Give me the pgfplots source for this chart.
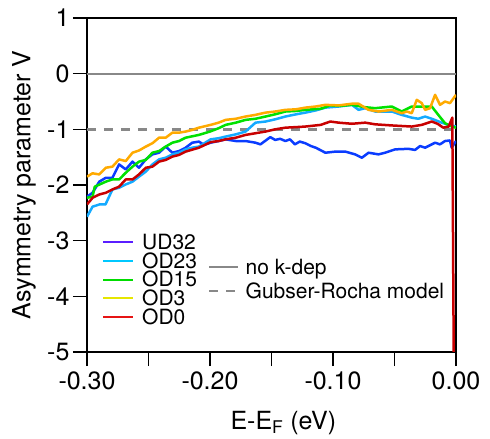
\documentclass[border=0pt]{standalone}
\usepackage{pgfplots}
\pgfplotsset{compat=1.18}
\usepackage{fontspec}
\setmainfont{TeX Gyre Heros}

% plot colours
\definecolor{pUD}{RGB}{10,60,255}
\definecolor{pOD23}{RGB}{20,170,255}
\definecolor{pOD15}{RGB}{0,225,0}
\definecolor{pOD3}{RGB}{255,170,0}
\definecolor{pOD0}{RGB}{200,0,0}
% legend colours
\definecolor{lUD}{RGB}{90,30,255}
\definecolor{lOD23}{RGB}{0,200,255}
\definecolor{lOD15}{RGB}{0,220,0}
\definecolor{lOD3}{RGB}{230,230,0}
\definecolor{lOD0}{RGB}{230,20,20}
\definecolor{refgray}{RGB}{136,136,136}

\newcommand{\tickfont}{\fontsize{25}{29}\selectfont}
\newcommand{\legfont}{\fontsize{21}{24}\selectfont}

\begin{document}
\begin{tikzpicture}
\begin{axis}[
    scale only axis,
    width=369pt, height=334pt,
    xmin=-0.3, xmax=0, ymin=-5, ymax=1,
    axis line style={line width=1.6pt},
    tick style={line width=1.4pt, black},
    tick align=outside,
    major tick length=14pt,
    xtick pos=lower, ytick pos=left,
    xtick={-0.30,-0.25,-0.20,-0.15,-0.10,-0.05,0},
    xticklabels={-0.30,,-0.20,,-0.10,,0.00},
    ytick={-5,-4,-3,-2,-1,0,1},
    yticklabels={-5,-4,-3,-2,-1,0,1},
    ticklabel style={font=\tickfont},
    label style={font=\tickfont},
    xticklabel style={yshift=-2pt},
    xlabel={E-E\textsubscript{F} (eV)},
    ylabel={Asymmetry parameter V},
    xlabel style={at={(axis description cs:0.3794,0)}, anchor=base west, yshift=-77pt},
    ylabel style={at={(axis description cs:-0.1707,0.5)}, anchor=center},
    every axis plot/.append style={line width=2.5pt, line join=round},
    legend image code/.code={\draw[#1] (0pt,0pt) -- (30pt,0pt);},
    legend style={at={(axis description cs:0.0407,0.357)}, anchor=north west,
        draw=none, fill=none, inner sep=0pt, row sep=0pt, column sep=8pt,
        nodes={inner sep=0pt, text height=16.35pt, text depth=2.35pt, font=\legfont},
        cells={anchor=west}},
]
% reference lines
\addplot[refgray, line width=2pt, forget plot] coordinates {(-0.3,0) (0,0)};
\addplot[refgray, line width=3pt, dash pattern=on 9pt off 8pt, forget plot] coordinates {(-0.3,-1) (0,-1)};

% UD32
\addplot[pUD, forget plot] coordinates {
(-0.300,-2.21) (-0.2955,-2.14) (-0.290,-1.94) (-0.2847,-1.87) (-0.2793,-1.87)
(-0.2739,-1.63) (-0.2685,-1.72) (-0.2630,-1.58) (-0.2577,-1.69) (-0.2522,-1.54)
(-0.2468,-1.45) (-0.2414,-1.42) (-0.2360,-1.31) (-0.2306,-1.42) (-0.2252,-1.39)
(-0.2198,-1.33) (-0.2144,-1.24) (-0.2090,-1.22) (-0.2050,-1.28) (-0.1995,-1.24)
(-0.1930,-1.21) (-0.1873,-1.18) (-0.1790,-1.21) (-0.1711,-1.21) (-0.1630,-1.24)
(-0.1590,-1.27) (-0.1510,-1.14) (-0.1470,-1.19) (-0.1430,-1.17) (-0.1387,-1.21)
(-0.1350,-1.18) (-0.1310,-1.27) (-0.1270,-1.22) (-0.1225,-1.25) (-0.1180,-1.30)
(-0.1140,-1.33) (-0.1062,-1.42) (-0.0980,-1.40) (-0.0900,-1.40) (-0.0820,-1.45)
(-0.0765,-1.51) (-0.0711,-1.42) (-0.0630,-1.45) (-0.0576,-1.42) (-0.0495,-1.36)
(-0.0387,-1.35) (-0.0333,-1.37) (-0.0292,-1.30) (-0.0251,-1.33) (-0.0170,-1.24)
(-0.0130,-1.27) (-0.0089,-1.21) (-0.0049,-1.20) (-0.0035,-1.33) (0.000,-1.21)
};
% OD23
\addplot[pOD23, forget plot] coordinates {
(-0.300,-2.57) (-0.2955,-2.39) (-0.290,-2.35) (-0.2850,-2.35) (-0.2793,-2.08)
(-0.2739,-2.05) (-0.2685,-1.99) (-0.2630,-1.94) (-0.2577,-1.85) (-0.2522,-1.76)
(-0.2468,-1.63) (-0.2414,-1.54) (-0.2360,-1.51) (-0.2306,-1.45) (-0.2252,-1.42)
(-0.2198,-1.36) (-0.2144,-1.33) (-0.2090,-1.31) (-0.1995,-1.18) (-0.1930,-1.16)
(-0.1873,-1.13) (-0.1790,-1.09) (-0.1711,-1.04) (-0.1630,-0.88) (-0.1549,-0.86)
(-0.1470,-0.82) (-0.1387,-0.77) (-0.1300,-0.73) (-0.1225,-0.70) (-0.1140,-0.66)
(-0.1062,-0.61) (-0.0954,-0.59) (-0.0846,-0.56) (-0.0792,-0.65) (-0.0738,-0.62)
(-0.0657,-0.68) (-0.0576,-0.68) (-0.0522,-0.68) (-0.0441,-0.74) (-0.0360,-0.79)
(-0.0306,-0.81) (-0.0251,-0.77) (-0.0197,-0.81) (-0.0116,-0.88) (-0.0062,-0.92)
(0.000,-0.95)
};
% OD15
\addplot[pOD15, forget plot] coordinates {
(-0.300,-2.23) (-0.2955,-2.21) (-0.2937,-2.03) (-0.2847,-1.94) (-0.2793,-1.90)
(-0.2739,-1.90) (-0.2685,-1.78) (-0.2630,-1.67) (-0.2577,-1.58) (-0.2522,-1.55)
(-0.2468,-1.42) (-0.2414,-1.39) (-0.2360,-1.31) (-0.2306,-1.24) (-0.2252,-1.21)
(-0.2198,-1.15) (-0.2090,-1.10) (-0.2000,-1.04) (-0.1930,-0.98) (-0.1873,-0.92)
(-0.1790,-0.88) (-0.1711,-0.83) (-0.1630,-0.81) (-0.1549,-0.77) (-0.1470,-0.73)
(-0.1387,-0.68) (-0.1300,-0.67) (-0.1225,-0.65) (-0.1100,-0.63) (-0.1022,-0.57)
(-0.0950,-0.58) (-0.0846,-0.56) (-0.0750,-0.60) (-0.0657,-0.62) (-0.0522,-0.59)
(-0.0441,-0.68) (-0.0360,-0.59) (-0.0278,-0.59) (-0.0197,-0.59) (-0.0144,-0.74)
(-0.0089,-0.89) (-0.0035,-0.95) (0.000,-0.97)
};
% OD3
\addplot[pOD3, forget plot] coordinates {
(-0.300,-1.85) (-0.2955,-1.79) (-0.290,-1.81) (-0.2847,-1.69) (-0.2793,-1.67)
(-0.2739,-1.54) (-0.2685,-1.57) (-0.2630,-1.42) (-0.2577,-1.38) (-0.2522,-1.31)
(-0.2468,-1.25) (-0.2414,-1.15) (-0.2360,-1.15) (-0.2306,-1.06) (-0.2252,-1.06)
(-0.2198,-1.04) (-0.2144,-1.01) (-0.2090,-0.97) (-0.1995,-0.92) (-0.1930,-0.88)
(-0.1873,-0.83) (-0.1790,-0.81) (-0.1711,-0.77) (-0.1630,-0.74) (-0.1549,-0.70)
(-0.1470,-0.68) (-0.1387,-0.65) (-0.1300,-0.64) (-0.1225,-0.61) (-0.1140,-0.59)
(-0.1062,-0.56) (-0.0954,-0.57) (-0.0846,-0.54) (-0.0792,-0.54) (-0.0711,-0.65)
(-0.0630,-0.68) (-0.0522,-0.65) (-0.0441,-0.71) (-0.0400,-0.68) (-0.0360,-0.71)
(-0.0319,-0.47) (-0.0278,-0.53) (-0.0251,-0.65) (-0.0211,-0.62) (-0.0170,-0.38)
(-0.0130,-0.56) (-0.0089,-0.50) (-0.0049,-0.53) (0.000,-0.38)
};
% OD0
\addplot[pOD0, forget plot] coordinates {
(-0.300,-2.35) (-0.2955,-2.23) (-0.290,-2.17) (-0.2847,-2.14) (-0.2793,-2.08)
(-0.2739,-2.03) (-0.2685,-1.90) (-0.2630,-1.90) (-0.2577,-1.81) (-0.2522,-1.69)
(-0.2468,-1.67) (-0.2414,-1.58) (-0.2360,-1.55) (-0.2306,-1.49) (-0.2252,-1.46)
(-0.2198,-1.40) (-0.2090,-1.33) (-0.1995,-1.23) (-0.1930,-1.21) (-0.1873,-1.18)
(-0.1790,-1.15) (-0.1711,-1.10) (-0.1630,-1.07) (-0.1549,-1.04) (-0.1470,-1.00)
(-0.1387,-0.97) (-0.1300,-0.96) (-0.1225,-0.95) (-0.1100,-0.92) (-0.1022,-0.86)
(-0.0954,-0.88) (-0.0846,-0.90) (-0.0738,-0.88) (-0.0657,-0.91) (-0.0522,-0.93)
(-0.0441,-0.94) (-0.0360,-0.95) (-0.0278,-0.92) (-0.0197,-0.86) (-0.0150,-0.90)
(-0.0103,-0.97) (-0.0060,-0.95) (-0.0030,-0.79) (-0.0018,-5.2)
};

% legend entries
\addlegendimage{lUD, line width=2pt}\addlegendentry{UD32}
\addlegendimage{lOD23, line width=2pt}\addlegendentry{OD23}
\addlegendimage{lOD15, line width=2pt}\addlegendentry{OD15}
\addlegendimage{lOD3, line width=2pt}\addlegendentry{OD3}
\addlegendimage{lOD0, line width=2pt}\addlegendentry{OD0}
\end{axis}

% second legend for the reference lines
\begin{axis}[
    scale only axis,
    width=369pt, height=334pt,
    hide axis,
    xmin=0, xmax=1, ymin=0, ymax=1,
    legend image code/.code={\draw[#1] (0pt,0pt) -- (29pt,0pt);},
    legend style={at={(axis description cs:0.328,0.2825)}, anchor=north west,
        draw=none, fill=none, inner sep=0pt, row sep=5.3pt, column sep=6pt,
        nodes={inner sep=0pt, text height=16.35pt, text depth=2.35pt, font=\legfont},
        cells={anchor=west}},
]
\addlegendimage{refgray, line width=2pt}\addlegendentry{no k-dep}
\addlegendimage{refgray, line width=2.5pt, dash pattern=on 9pt off 8pt}\addlegendentry{Gubser-Rocha model}
\end{axis}

\pgfresetboundingbox
\path[use as bounding box] (-87pt,-87pt) rectangle (403pt,352pt);
\end{tikzpicture}
\end{document}
